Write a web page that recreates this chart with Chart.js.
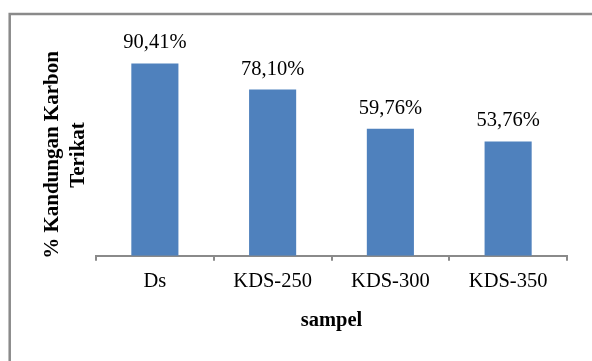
<!DOCTYPE html>
<html>
<head>
<meta charset="utf-8">
<script src="https://cdn.jsdelivr.net/npm/chart.js@4"></script>
<style>
  body { margin: 0; background: #fff; }
  #wrap { width: 592px; height: 361px; }
</style>
</head>
<body>
<div id="wrap"><canvas id="kadarChart" width="592" height="361"></canvas></div>
<script>
// data dari grafik
const sampel = ['Ds', 'KDS-250', 'KDS-300', 'KDS-350'];
const kadarKarbon = [90.41, 78.10, 59.76, 53.76];
const judulY = ['% Kandungan Karbon', 'Terikat'];
const judulX = 'sampel';

const FONT = '"Liberation Serif", "Times New Roman", serif';

// bingkai luar (hanya kiri dan atas yang terlihat)
const frame = {
    id: 'frame',
    beforeDraw(chart) {
        const ctx = chart.ctx;
        ctx.save();
        ctx.fillStyle = '#fff';
        ctx.fillRect(0, 0, chart.width, chart.height);
        ctx.strokeStyle = '#8a8a8a';
        ctx.lineWidth = 2.5;
        ctx.beginPath();
        ctx.moveTo(9.7, chart.height);
        ctx.lineTo(9.7, 14);
        ctx.lineTo(chart.width, 14);
        ctx.stroke();
        ctx.restore();
    }
};

// label nilai di atas batang + judul sumbu Y
const labels = {
    id: 'labels',
    afterDatasetsDraw(chart) {
        const ctx = chart.ctx;
        const meta = chart.getDatasetMeta(0);
        ctx.save();
        ctx.fillStyle = '#000';
        ctx.font = '20.5px ' + FONT;
        ctx.textAlign = 'center';
        ctx.textBaseline = 'alphabetic';
        meta.data.forEach((bar, i) => {
            const txt = kadarKarbon[i].toFixed(2).replace('.', ',') + '%';
            ctx.fillText(txt, bar.x, bar.y - 15);
        });

        ctx.font = 'bold 21px ' + FONT;
        ctx.translate(66, 155);
        ctx.rotate(-Math.PI / 2);
        ctx.textBaseline = 'middle';
        ctx.fillText(judulY[0], 0, -13);
        ctx.fillText(judulY[1], 0, 13);
        ctx.restore();
    }
};

new Chart(document.getElementById('kadarChart'), {
    type: 'bar',
    data: {
        labels: sampel,
        datasets: [{
            data: kadarKarbon,
            backgroundColor: '#4F81BD',
            barPercentage: 0.4,
            categoryPercentage: 1.0
        }]
    },
    options: {
        responsive: false,
        animation: false,
        layout: { padding: { left: 96, right: 25, top: 43, bottom: 28 } },
        plugins: {
            legend: { display: false },
            tooltip: { enabled: false }
        },
        scales: {
            y: { display: false, min: 0, max: 100 },
            x: {
                grid: {
                    drawOnChartArea: false,
                    drawTicks: true,
                    tickLength: 5,
                    color: '#8a8a8a',
                    lineWidth: 2
                },
                border: { display: true, color: '#8a8a8a', width: 2 },
                ticks: {
                    color: '#000',
                    padding: 9,
                    font: { family: FONT, size: 20.5 }
                },
                title: {
                    display: true,
                    text: judulX,
                    color: '#000',
                    padding: { top: 5, bottom: 0 },
                    font: { family: FONT, size: 20.5, weight: 'bold' }
                }
            }
        }
    },
    plugins: [frame, labels]
});
</script>
</body>
</html>
